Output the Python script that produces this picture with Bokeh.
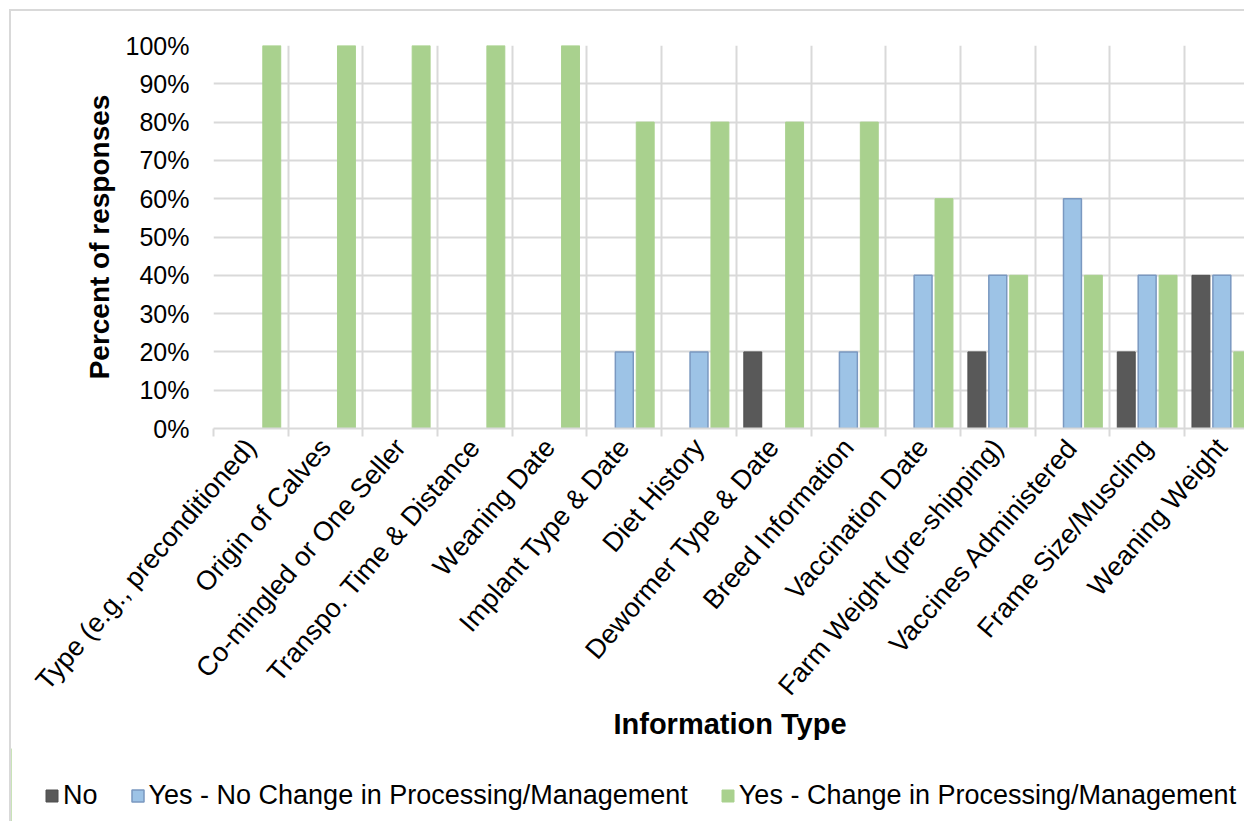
from math import pi
from bokeh.plotting import figure
from bokeh.models import (FixedTicker, Legend, LegendItem, PrintfTickFormatter,
                          Range1d, ColumnDataSource)
from bokeh.embed import file_html
from bokeh.resources import INLINE

categories = [
    "Type (e.g., preconditioned)", "Origin of Calves", "Co-mingled or One Seller",
    "Transpo. Time & Distance", "Weaning Date", "Implant Type & Date",
    "Diet History", "Dewormer Type & Date", "Breed Information",
    "Vaccination Date", "Farm Weight (pre-shipping)", "Vaccines Administered",
    "Frame Size/Muscling", "Weaning Weight",
]
no_vals = [0, 0, 0, 0, 0, 0, 0, 20, 0, 0, 20, 0, 20, 40]
yes_no_change = [0, 0, 0, 0, 0, 20, 20, 0, 20, 40, 40, 60, 40, 40]
yes_change = [100, 100, 100, 100, 100, 80, 80, 80, 80, 60, 40, 40, 40, 20]
y_ticks = [0, 10, 20, 30, 40, 50, 60, 70, 80, 90, 100]
series_names = ["No", "Yes - No Change in Processing/Management",
                "Yes - Change in Processing/Management"]

FONT = "Liberation Sans"
GRID = "#D9D9D9"
COLORS = ["#595959", "#9DC3E6", "#A9D18E"]
EDGES = ["#4F4F4F", "#7A98C0", "#A9D18E"]
EDGE_W = [1, 1.5, 1]
OFFSETS = [-0.28, 0.0, 0.28]

n = len(categories)
centers = [i + 0.5 for i in range(n)]
bounds = list(range(n + 1))

p = figure(width=1235, height=739, x_range=Range1d(0, 13.83), y_range=Range1d(0, 100),
           output_backend="svg", toolbar_location=None,
           min_border_left=202, min_border_top=34, min_border_right=0,
           min_border_bottom=322)
p.outline_line_color = None
p.background_fill_color = "white"
p.border_fill_color = "white"
p.styles = {"margin-left": "9px", "margin-top": "9px",
            "border-left": "2px solid #D9D9D9", "border-top": "2px solid #D9D9D9"}


def src(vals, off):
    xs = [c + off for c, v in zip(centers, vals) if v > 0]
    ts = [v for v in vals if v > 0]
    return ColumnDataSource(dict(x=xs, top=ts))


w = 0.24
for vals, col, edge, ew, off in zip([no_vals, yes_no_change, yes_change],
                                     COLORS, EDGES, EDGE_W, OFFSETS):
    p.vbar(x="x", top="top", width=w, source=src(vals, off),
           fill_color=col, line_color=edge, line_width=ew)

# axes
p.yaxis.ticker = FixedTicker(ticks=y_ticks)
p.yaxis.formatter = PrintfTickFormatter(format="%d%%")
p.yaxis.axis_line_color = None
p.yaxis.major_tick_line_color = None
p.yaxis.major_tick_out = 0
p.yaxis.major_tick_in = 0
p.yaxis.minor_tick_line_color = None
p.yaxis.minor_tick_out = 0
p.yaxis.major_label_standoff = 24
p.yaxis.major_label_text_font = FONT
p.yaxis.major_label_text_font_size = "25px"
p.yaxis.major_label_text_color = "#000000"
p.yaxis.axis_label = "Percent of responses"
p.yaxis.axis_label_text_font = FONT
p.yaxis.axis_label_text_font_size = "28px"
p.yaxis.axis_label_text_font_style = "bold"
p.yaxis.axis_label_text_color = "#000000"
p.yaxis.axis_label_standoff = 8

p.xaxis.ticker = FixedTicker(ticks=centers, minor_ticks=bounds)
p.xaxis.major_label_overrides = {float(c): cat for c, cat in zip(centers, categories)}
p.xaxis.major_label_orientation = 0.86
p.xaxis.axis_line_color = GRID
p.xaxis.axis_line_width = 2
p.xaxis.major_tick_line_color = None
p.xaxis.minor_tick_line_color = GRID
p.xaxis.minor_tick_line_width = 2
p.xaxis.minor_tick_in = 0
p.xaxis.minor_tick_out = 8
p.xaxis.major_label_standoff = 6
p.xaxis.major_label_text_font = FONT
p.xaxis.major_label_text_font_size = "27px"
p.xaxis.major_label_text_color = "#000000"
p.xaxis.axis_label = "Information Type"
p.xaxis.axis_label_text_font = FONT
p.xaxis.axis_label_text_font_size = "29px"
p.xaxis.axis_label_text_font_style = "bold"
p.xaxis.axis_label_text_color = "#000000"
p.xaxis.axis_label_standoff = -6

p.xgrid.ticker = FixedTicker(ticks=bounds)
p.ygrid.ticker = FixedTicker(ticks=y_ticks)
p.xgrid.grid_line_color = GRID
p.ygrid.grid_line_color = GRID
p.xgrid.grid_line_width = 2
p.ygrid.grid_line_width = 2

# legend strip below the chart (separate root so its frame is not aligned)
lg = figure(width=1235, height=73, x_range=Range1d(0, 1), y_range=Range1d(0, 1),
            output_backend="svg", toolbar_location=None,
            min_border_left=0, min_border_right=0, min_border_top=0, min_border_bottom=0)
lg.axis.visible = False
lg.grid.visible = False
lg.outline_line_color = None
lg.border_fill_color = "white"
lg.background_fill_color = "white"
lg.styles = {"margin-left": "9px", "border-left": "2px solid #D9D9D9"}
items = []
for name, col, edge, ew, vals in zip(series_names, COLORS, EDGES, EDGE_W,
                                     [no_vals, yes_no_change, yes_change]):
    # legend proxy renderer: the series' first value placed outside the visible range
    r = lg.vbar(x=[-5], top=[vals[0]], width=0.1, fill_color=col,
                line_color=edge, line_width=ew)
    items.append(LegendItem(label=name, renderers=[r]))
legend = Legend(items=items, orientation="horizontal", location=(33, 10),
                label_text_font=FONT, label_text_font_size="27px",
                label_text_color="#000000",
                glyph_width=15, glyph_height=15, label_standoff=4, spacing=32,
                border_line_color=None, background_fill_alpha=0,
                padding=0, margin=0)
lg.add_layout(legend)

open("out.html", "w").write(file_html([p, lg], INLINE))
